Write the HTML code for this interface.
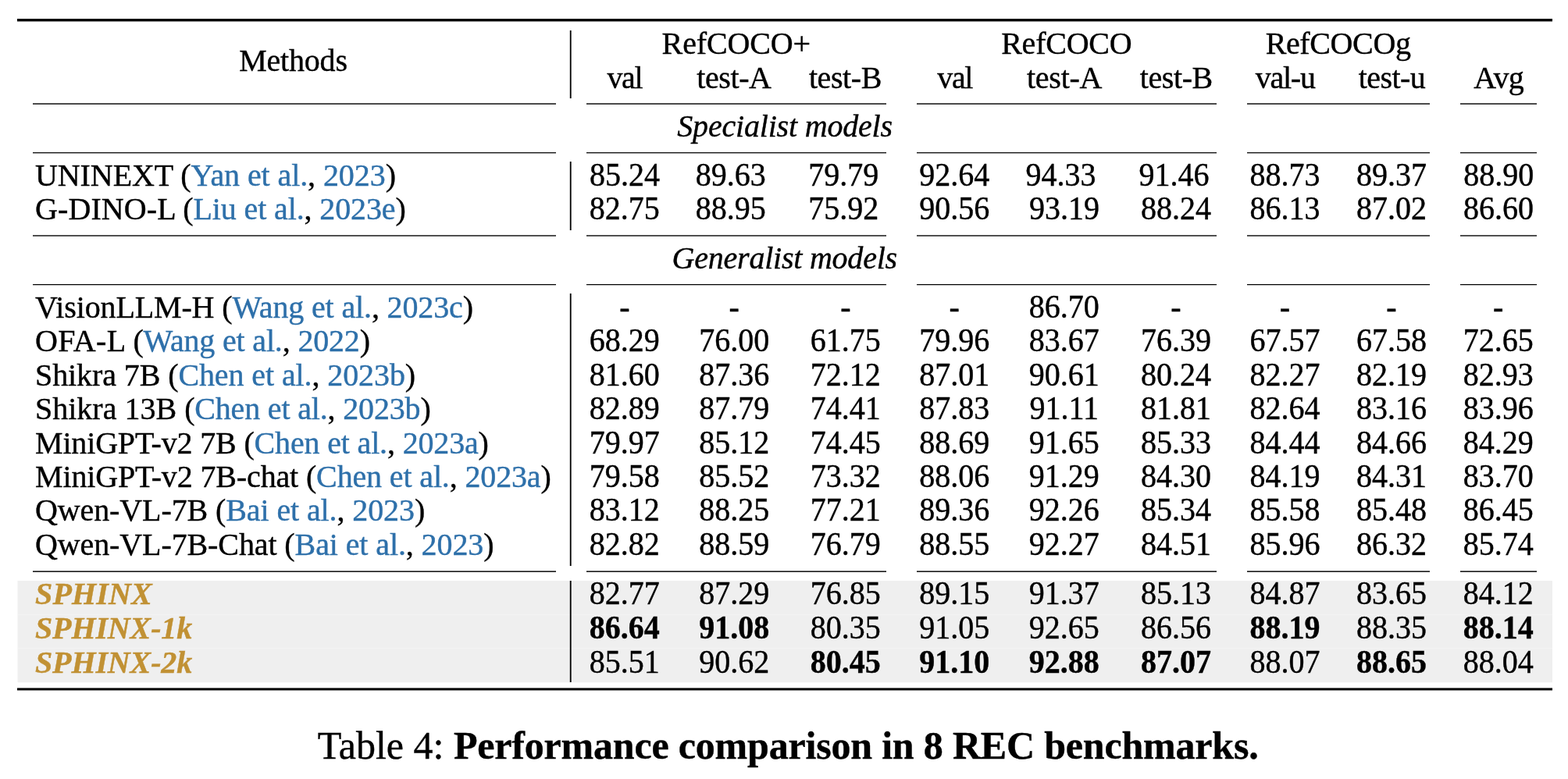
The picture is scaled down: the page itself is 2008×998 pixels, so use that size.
<!DOCTYPE html>
<html><head><meta charset="utf-8"><title>Table 4</title>
<style>
html,body{margin:0;padding:0;background:#fff;}
body{width:2008px;height:998px;position:relative;overflow:hidden;font-family:"Liberation Serif","Times New Roman",serif;color:#000;-webkit-text-stroke:0.4px currentColor;}
.t{position:absolute;font-size:40px;line-height:40px;white-space:nowrap;}
.n{position:absolute;font-size:40px;line-height:40px;white-space:nowrap;width:160px;text-align:center;}
.d{transform:scaleY(1.045);transform-origin:50% 33px;}
.c{color:#2e70aa;}
.sp{color:#c19134;font-weight:bold;font-style:italic;}
.b{font-weight:bold;}
.i{font-style:italic;}
.r{position:absolute;}
</style></head><body>

<div class="r" style="left:23px;top:744px;width:1965px;height:130px;background:#efefef"></div>
<div class="r" style="left:22px;top:744px;width:1px;height:130px;background:#f7f7f7"></div>
<div class="r" style="left:23px;top:874px;width:1965px;height:1px;background:#fafafa"></div>
<div class="r" style="left:23px;top:787px;width:1965px;height:1px;background:#f3f3f3"></div>
<div class="r" style="left:23px;top:830px;width:1965px;height:1px;background:#f3f3f3"></div>
<div class="r" style="left:22px;top:24px;width:1966px;height:1px;background:rgba(0,0,0,0.95)"></div>
<div class="r" style="left:22px;top:25px;width:1966px;height:1px;background:rgba(0,0,0,1)"></div>
<div class="r" style="left:22px;top:26px;width:1966px;height:1px;background:rgba(0,0,0,1)"></div>
<div class="r" style="left:22px;top:27px;width:1966px;height:1px;background:rgba(0,0,0,0.45)"></div>
<div class="r" style="left:22px;top:881px;width:1966px;height:1px;background:rgba(0,0,0,0.58)"></div>
<div class="r" style="left:22px;top:882px;width:1966px;height:1px;background:rgba(0,0,0,1)"></div>
<div class="r" style="left:22px;top:883px;width:1966px;height:1px;background:rgba(0,0,0,1)"></div>
<div class="r" style="left:22px;top:884px;width:1966px;height:1px;background:rgba(0,0,0,0.45)"></div>
<div class="r" style="left:42px;top:132px;width:669.8px;height:1px;background:rgba(0,0,0,0.69)"></div>
<div class="r" style="left:42px;top:133px;width:669.8px;height:1px;background:rgba(0,0,0,0.73)"></div>
<div class="r" style="left:751px;top:132px;width:383.8px;height:1px;background:rgba(0,0,0,0.69)"></div>
<div class="r" style="left:751px;top:133px;width:383.8px;height:1px;background:rgba(0,0,0,0.73)"></div>
<div class="r" style="left:1174px;top:132px;width:384px;height:1px;background:rgba(0,0,0,0.69)"></div>
<div class="r" style="left:1174px;top:133px;width:384px;height:1px;background:rgba(0,0,0,0.73)"></div>
<div class="r" style="left:1597px;top:132px;width:234.3px;height:1px;background:rgba(0,0,0,0.69)"></div>
<div class="r" style="left:1597px;top:133px;width:234.3px;height:1px;background:rgba(0,0,0,0.73)"></div>
<div class="r" style="left:1870.4px;top:132px;width:97.6px;height:1px;background:rgba(0,0,0,0.69)"></div>
<div class="r" style="left:1870.4px;top:133px;width:97.6px;height:1px;background:rgba(0,0,0,0.73)"></div>
<div class="r" style="left:42px;top:195px;width:669.8px;height:1px;background:rgba(0,0,0,0.91)"></div>
<div class="r" style="left:42px;top:196px;width:669.8px;height:1px;background:rgba(0,0,0,0.37)"></div>
<div class="r" style="left:751px;top:195px;width:383.8px;height:1px;background:rgba(0,0,0,0.91)"></div>
<div class="r" style="left:751px;top:196px;width:383.8px;height:1px;background:rgba(0,0,0,0.37)"></div>
<div class="r" style="left:1174px;top:195px;width:384px;height:1px;background:rgba(0,0,0,0.91)"></div>
<div class="r" style="left:1174px;top:196px;width:384px;height:1px;background:rgba(0,0,0,0.37)"></div>
<div class="r" style="left:1597px;top:195px;width:234.3px;height:1px;background:rgba(0,0,0,0.91)"></div>
<div class="r" style="left:1597px;top:196px;width:234.3px;height:1px;background:rgba(0,0,0,0.37)"></div>
<div class="r" style="left:1870.4px;top:195px;width:97.6px;height:1px;background:rgba(0,0,0,0.91)"></div>
<div class="r" style="left:1870.4px;top:196px;width:97.6px;height:1px;background:rgba(0,0,0,0.37)"></div>
<div class="r" style="left:42px;top:301px;width:669.8px;height:1px;background:rgba(0,0,0,0.72)"></div>
<div class="r" style="left:42px;top:302px;width:669.8px;height:1px;background:rgba(0,0,0,0.65)"></div>
<div class="r" style="left:751px;top:301px;width:383.8px;height:1px;background:rgba(0,0,0,0.72)"></div>
<div class="r" style="left:751px;top:302px;width:383.8px;height:1px;background:rgba(0,0,0,0.65)"></div>
<div class="r" style="left:1174px;top:301px;width:384px;height:1px;background:rgba(0,0,0,0.72)"></div>
<div class="r" style="left:1174px;top:302px;width:384px;height:1px;background:rgba(0,0,0,0.65)"></div>
<div class="r" style="left:1597px;top:301px;width:234.3px;height:1px;background:rgba(0,0,0,0.72)"></div>
<div class="r" style="left:1597px;top:302px;width:234.3px;height:1px;background:rgba(0,0,0,0.65)"></div>
<div class="r" style="left:1870.4px;top:301px;width:97.6px;height:1px;background:rgba(0,0,0,0.72)"></div>
<div class="r" style="left:1870.4px;top:302px;width:97.6px;height:1px;background:rgba(0,0,0,0.65)"></div>
<div class="r" style="left:42px;top:364px;width:669.8px;height:1px;background:rgba(0,0,0,1)"></div>
<div class="r" style="left:42px;top:365px;width:669.8px;height:1px;background:rgba(0,0,0,0.25)"></div>
<div class="r" style="left:751px;top:364px;width:383.8px;height:1px;background:rgba(0,0,0,1)"></div>
<div class="r" style="left:751px;top:365px;width:383.8px;height:1px;background:rgba(0,0,0,0.25)"></div>
<div class="r" style="left:1174px;top:364px;width:384px;height:1px;background:rgba(0,0,0,1)"></div>
<div class="r" style="left:1174px;top:365px;width:384px;height:1px;background:rgba(0,0,0,0.25)"></div>
<div class="r" style="left:1597px;top:364px;width:234.3px;height:1px;background:rgba(0,0,0,1)"></div>
<div class="r" style="left:1597px;top:365px;width:234.3px;height:1px;background:rgba(0,0,0,0.25)"></div>
<div class="r" style="left:1870.4px;top:364px;width:97.6px;height:1px;background:rgba(0,0,0,1)"></div>
<div class="r" style="left:1870.4px;top:365px;width:97.6px;height:1px;background:rgba(0,0,0,0.25)"></div>
<div class="r" style="left:42px;top:731px;width:669.8px;height:1px;background:rgba(0,0,0,0.56)"></div>
<div class="r" style="left:42px;top:732px;width:669.8px;height:1px;background:rgba(0,0,0,0.89)"></div>
<div class="r" style="left:751px;top:731px;width:383.8px;height:1px;background:rgba(0,0,0,0.56)"></div>
<div class="r" style="left:751px;top:732px;width:383.8px;height:1px;background:rgba(0,0,0,0.89)"></div>
<div class="r" style="left:1174px;top:731px;width:384px;height:1px;background:rgba(0,0,0,0.56)"></div>
<div class="r" style="left:1174px;top:732px;width:384px;height:1px;background:rgba(0,0,0,0.89)"></div>
<div class="r" style="left:1597px;top:731px;width:234.3px;height:1px;background:rgba(0,0,0,0.56)"></div>
<div class="r" style="left:1597px;top:732px;width:234.3px;height:1px;background:rgba(0,0,0,0.89)"></div>
<div class="r" style="left:1870.4px;top:731px;width:97.6px;height:1px;background:rgba(0,0,0,0.56)"></div>
<div class="r" style="left:1870.4px;top:732px;width:97.6px;height:1px;background:rgba(0,0,0,0.89)"></div>
<div class="r" style="left:729px;top:38.7px;width:1px;height:87.1px;background:rgba(0,0,0,0.2)"></div>
<div class="r" style="left:730px;top:38.7px;width:1px;height:87.1px;background:rgba(0,0,0,1)"></div>
<div class="r" style="left:731px;top:38.7px;width:1px;height:87.1px;background:rgba(0,0,0,0.62)"></div>
<div class="r" style="left:729px;top:207.4px;width:1px;height:87.2px;background:rgba(0,0,0,0.2)"></div>
<div class="r" style="left:730px;top:207.4px;width:1px;height:87.2px;background:rgba(0,0,0,1)"></div>
<div class="r" style="left:731px;top:207.4px;width:1px;height:87.2px;background:rgba(0,0,0,0.62)"></div>
<div class="r" style="left:729px;top:376px;width:1px;height:348.7px;background:rgba(0,0,0,0.2)"></div>
<div class="r" style="left:730px;top:376px;width:1px;height:348.7px;background:rgba(0,0,0,1)"></div>
<div class="r" style="left:731px;top:376px;width:1px;height:348.7px;background:rgba(0,0,0,0.62)"></div>
<div class="r" style="left:729px;top:743.9px;width:1px;height:130.3px;background:rgba(0,0,0,0.2)"></div>
<div class="r" style="left:730px;top:743.9px;width:1px;height:130.3px;background:rgba(0,0,0,1)"></div>
<div class="r" style="left:731px;top:743.9px;width:1px;height:130.3px;background:rgba(0,0,0,0.62)"></div>
<div class="t" style="left:306.2px;top:57.7px;letter-spacing:-0.2px">Methods</div>
<div class="n" style="left:742.8px;top:35.9px;width:400px;letter-spacing:-0.13px">RefCOCO+</div>
<div class="n" style="left:1165.8px;top:35.9px;width:400px;letter-spacing:-0.23px">RefCOCO</div>
<div class="n" style="left:1513.6px;top:35.9px;width:400px;letter-spacing:-0.37px">RefCOCOg</div>
<div class="n" style="left:719.8px;top:80.1px;letter-spacing:-1.45px">val</div>
<div class="n" style="left:859.9px;top:80.1px;letter-spacing:-0.42px">test-A</div>
<div class="n" style="left:1002.4px;top:80.1px;letter-spacing:-0.42px">test-B</div>
<div class="n" style="left:1142.6px;top:80.1px;letter-spacing:-1.45px">val</div>
<div class="n" style="left:1283.1px;top:80.1px;letter-spacing:-0.24px">test-A</div>
<div class="n" style="left:1426.3px;top:80.1px;letter-spacing:-0.42px">test-B</div>
<div class="n" style="left:1565.7px;top:80.1px;letter-spacing:-1.22px">val-u</div>
<div class="n" style="left:1702.5px;top:80.1px;letter-spacing:-0.58px">test-u</div>
<div class="n" style="left:1839.2px;top:80.1px;letter-spacing:-0.65px">Avg</div>
<div class="t i" style="left:867.3px;top:141.7px;letter-spacing:-0.19px">Specialist models</div>
<div class="t i" style="left:860.6px;top:310.6px;letter-spacing:-0.23px">Generalist models</div>
<div class="t" style="left:45px;top:204.8px;letter-spacing:-0.084px">UNINEXT (<span class="c">Yan et al.</span>, <span class="c">2023</span>)</div>
<div class="n d" style="left:720.1px;top:204.8px">85.24</div>
<div class="n d" style="left:855.8px;top:204.8px">89.63</div>
<div class="n d" style="left:1000.3px;top:204.8px">79.79</div>
<div class="n d" style="left:1142.3px;top:204.8px">92.64</div>
<div class="n d" style="left:1278.5px;top:204.8px">94.33</div>
<div class="n d" style="left:1423.4px;top:204.8px">91.46</div>
<div class="n d" style="left:1565.6px;top:204.8px">88.73</div>
<div class="n d" style="left:1702px;top:204.8px">89.37</div>
<div class="n d" style="left:1839.2px;top:204.8px">88.90</div>
<div class="t" style="left:45px;top:248.3px;letter-spacing:-0.13px"><span style="letter-spacing:0.1px">G-DINO-L </span>(<span class="c">Liu et al.</span>, <span class="c">2023e</span>)</div>
<div class="n d" style="left:719.8px;top:248.3px">82.75</div>
<div class="n d" style="left:855.8px;top:248.3px">88.95</div>
<div class="n d" style="left:1000.3px;top:248.3px">75.92</div>
<div class="n d" style="left:1142.3px;top:248.3px">90.56</div>
<div class="n d" style="left:1283px;top:248.3px">93.19</div>
<div class="n d" style="left:1426.1px;top:248.3px">88.24</div>
<div class="n d" style="left:1565.6px;top:248.3px">86.13</div>
<div class="n d" style="left:1702px;top:248.3px">87.02</div>
<div class="n d" style="left:1839px;top:248.3px">86.60</div>
<div class="t" style="left:45px;top:373.6px;letter-spacing:-0.142px">VisionLLM-H (<span class="c">Wang et al.</span>, <span class="c">2023c</span>)</div>
<div class="n d" style="left:719.8px;top:373.6px">-</div>
<div class="n d" style="left:860.2px;top:373.6px">-</div>
<div class="n d" style="left:1002.8px;top:373.6px">-</div>
<div class="n d" style="left:1142.2px;top:373.6px">-</div>
<div class="n d" style="left:1282.8px;top:373.6px">86.70</div>
<div class="n d" style="left:1426px;top:373.6px">-</div>
<div class="n d" style="left:1565.5px;top:373.6px">-</div>
<div class="n d" style="left:1702px;top:373.6px">-</div>
<div class="n d" style="left:1838.7px;top:373.6px">-</div>
<div class="t" style="left:45px;top:417.1px;letter-spacing:-0.17px"><span style="letter-spacing:0.34px">OFA-L </span>(<span class="c">Wang et al.</span>, <span class="c">2022</span>)</div>
<div class="n d" style="left:719.8px;top:417.1px">68.29</div>
<div class="n d" style="left:860.2px;top:417.1px">76.00</div>
<div class="n d" style="left:1002.8px;top:417.1px">61.75</div>
<div class="n d" style="left:1142.2px;top:417.1px">79.96</div>
<div class="n d" style="left:1282.8px;top:417.1px">83.67</div>
<div class="n d" style="left:1426px;top:417.1px">76.39</div>
<div class="n d" style="left:1565.5px;top:417.1px">67.57</div>
<div class="n d" style="left:1702px;top:417.1px">67.58</div>
<div class="n d" style="left:1838.7px;top:417.1px">72.65</div>
<div class="t" style="left:45px;top:460.6px;letter-spacing:-0.097px">Shikra 7B (<span class="c">Chen et al.</span>, <span class="c">2023b</span>)</div>
<div class="n d" style="left:719.8px;top:460.6px">81.60</div>
<div class="n d" style="left:860.2px;top:460.6px">87.36</div>
<div class="n d" style="left:1002.8px;top:460.6px">72.12</div>
<div class="n d" style="left:1142.2px;top:460.6px">87.01</div>
<div class="n d" style="left:1282.8px;top:460.6px">90.61</div>
<div class="n d" style="left:1426px;top:460.6px">80.24</div>
<div class="n d" style="left:1565.5px;top:460.6px">82.27</div>
<div class="n d" style="left:1702px;top:460.6px">82.19</div>
<div class="n d" style="left:1838.7px;top:460.6px">82.93</div>
<div class="t" style="left:45px;top:504.1px;letter-spacing:-0.17px"><span style="letter-spacing:0.0px">Shikra 13B </span>(<span class="c">Chen et al.</span>, <span class="c">2023b</span>)</div>
<div class="n d" style="left:719.8px;top:504.1px">82.89</div>
<div class="n d" style="left:860.2px;top:504.1px">87.79</div>
<div class="n d" style="left:1002.8px;top:504.1px">74.41</div>
<div class="n d" style="left:1142.2px;top:504.1px">87.83</div>
<div class="n d" style="left:1282.8px;top:504.1px">91.11</div>
<div class="n d" style="left:1426px;top:504.1px">81.81</div>
<div class="n d" style="left:1565.5px;top:504.1px">82.64</div>
<div class="n d" style="left:1702px;top:504.1px">83.16</div>
<div class="n d" style="left:1838.7px;top:504.1px">83.96</div>
<div class="t" style="left:45px;top:547.6px;letter-spacing:-0.164px">MiniGPT-v2 7B (<span class="c">Chen et al.</span>, <span class="c">2023a</span>)</div>
<div class="n d" style="left:719.8px;top:547.6px">79.97</div>
<div class="n d" style="left:860.2px;top:547.6px">85.12</div>
<div class="n d" style="left:1002.8px;top:547.6px">74.45</div>
<div class="n d" style="left:1142.2px;top:547.6px">88.69</div>
<div class="n d" style="left:1282.8px;top:547.6px">91.65</div>
<div class="n d" style="left:1426px;top:547.6px">85.33</div>
<div class="n d" style="left:1565.5px;top:547.6px">84.44</div>
<div class="n d" style="left:1702px;top:547.6px">84.66</div>
<div class="n d" style="left:1838.7px;top:547.6px">84.29</div>
<div class="t" style="left:45px;top:591px;letter-spacing:-0.142px">MiniGPT-v2 7B-chat (<span class="c">Chen et al.</span>, <span class="c">2023a</span>)</div>
<div class="n d" style="left:719.8px;top:591px">79.58</div>
<div class="n d" style="left:860.2px;top:591px">85.52</div>
<div class="n d" style="left:1002.8px;top:591px">73.32</div>
<div class="n d" style="left:1142.2px;top:591px">88.06</div>
<div class="n d" style="left:1282.8px;top:591px">91.29</div>
<div class="n d" style="left:1426px;top:591px">84.30</div>
<div class="n d" style="left:1565.5px;top:591px">84.19</div>
<div class="n d" style="left:1702px;top:591px">84.31</div>
<div class="n d" style="left:1838.7px;top:591px">83.70</div>
<div class="t" style="left:45px;top:634.4px;letter-spacing:-0.104px">Qwen-VL-7B (<span class="c">Bai et al.</span>, <span class="c">2023</span>)</div>
<div class="n d" style="left:719.8px;top:634.4px">83.12</div>
<div class="n d" style="left:860.2px;top:634.4px">88.25</div>
<div class="n d" style="left:1002.8px;top:634.4px">77.21</div>
<div class="n d" style="left:1142.2px;top:634.4px">89.36</div>
<div class="n d" style="left:1282.8px;top:634.4px">92.26</div>
<div class="n d" style="left:1426px;top:634.4px">85.34</div>
<div class="n d" style="left:1565.5px;top:634.4px">85.58</div>
<div class="n d" style="left:1702px;top:634.4px">85.48</div>
<div class="n d" style="left:1838.7px;top:634.4px">86.45</div>
<div class="t" style="left:45px;top:677.9px;letter-spacing:-0.106px">Qwen-VL-7B-Chat (<span class="c">Bai et al.</span>, <span class="c">2023</span>)</div>
<div class="n d" style="left:719.8px;top:677.9px">82.82</div>
<div class="n d" style="left:860.2px;top:677.9px">88.59</div>
<div class="n d" style="left:1002.8px;top:677.9px">76.79</div>
<div class="n d" style="left:1142.2px;top:677.9px">88.55</div>
<div class="n d" style="left:1282.8px;top:677.9px">92.27</div>
<div class="n d" style="left:1426px;top:677.9px">84.51</div>
<div class="n d" style="left:1565.5px;top:677.9px">85.96</div>
<div class="n d" style="left:1702px;top:677.9px">86.32</div>
<div class="n d" style="left:1838.7px;top:677.9px">85.74</div>
<div class="t" style="left:45px;top:741.2px;letter-spacing:0.16px"><span class="sp">SPHINX</span></div>
<div class="n d" style="left:719.8px;top:741.2px">82.77</div>
<div class="n d" style="left:860.2px;top:741.2px">87.29</div>
<div class="n d" style="left:1002.8px;top:741.2px">76.85</div>
<div class="n d" style="left:1142.2px;top:741.2px">89.15</div>
<div class="n d" style="left:1282.8px;top:741.2px">91.37</div>
<div class="n d" style="left:1426px;top:741.2px">85.13</div>
<div class="n d" style="left:1565.5px;top:741.2px">84.87</div>
<div class="n d" style="left:1702px;top:741.2px">83.65</div>
<div class="n d" style="left:1838.7px;top:741.2px">84.12</div>
<div class="t" style="left:45px;top:784.8px;letter-spacing:-0.125px"><span class="sp">SPHINX-1k</span></div>
<div class="n d b" style="left:719.8px;top:784.8px">86.64</div>
<div class="n d b" style="left:860.2px;top:784.8px">91.08</div>
<div class="n d" style="left:1002.8px;top:784.8px">80.35</div>
<div class="n d" style="left:1142.2px;top:784.8px">91.05</div>
<div class="n d" style="left:1282.8px;top:784.8px">92.65</div>
<div class="n d" style="left:1426px;top:784.8px">86.56</div>
<div class="n d b" style="left:1565.5px;top:784.8px">88.19</div>
<div class="n d" style="left:1702px;top:784.8px">88.35</div>
<div class="n d b" style="left:1838.7px;top:784.8px">88.14</div>
<div class="t" style="left:45px;top:828.6px;letter-spacing:-0.125px"><span class="sp">SPHINX-2k</span></div>
<div class="n d" style="left:719.8px;top:828.6px">85.51</div>
<div class="n d" style="left:860.2px;top:828.6px">90.62</div>
<div class="n d b" style="left:1002.8px;top:828.6px">80.45</div>
<div class="n d b" style="left:1142.2px;top:828.6px">91.10</div>
<div class="n d b" style="left:1282.8px;top:828.6px">92.88</div>
<div class="n d b" style="left:1426px;top:828.6px">87.07</div>
<div class="n d" style="left:1565.5px;top:828.6px">88.07</div>
<div class="n d b" style="left:1702px;top:828.6px">88.65</div>
<div class="n d" style="left:1838.7px;top:828.6px">88.04</div>
<div class="t" style="left:406.7px;top:930.2px;font-size:50px;line-height:50px">Table 4: <b style="letter-spacing:-0.19px">Performance comparison in 8 REC benchmarks.</b></div>
</body></html>
